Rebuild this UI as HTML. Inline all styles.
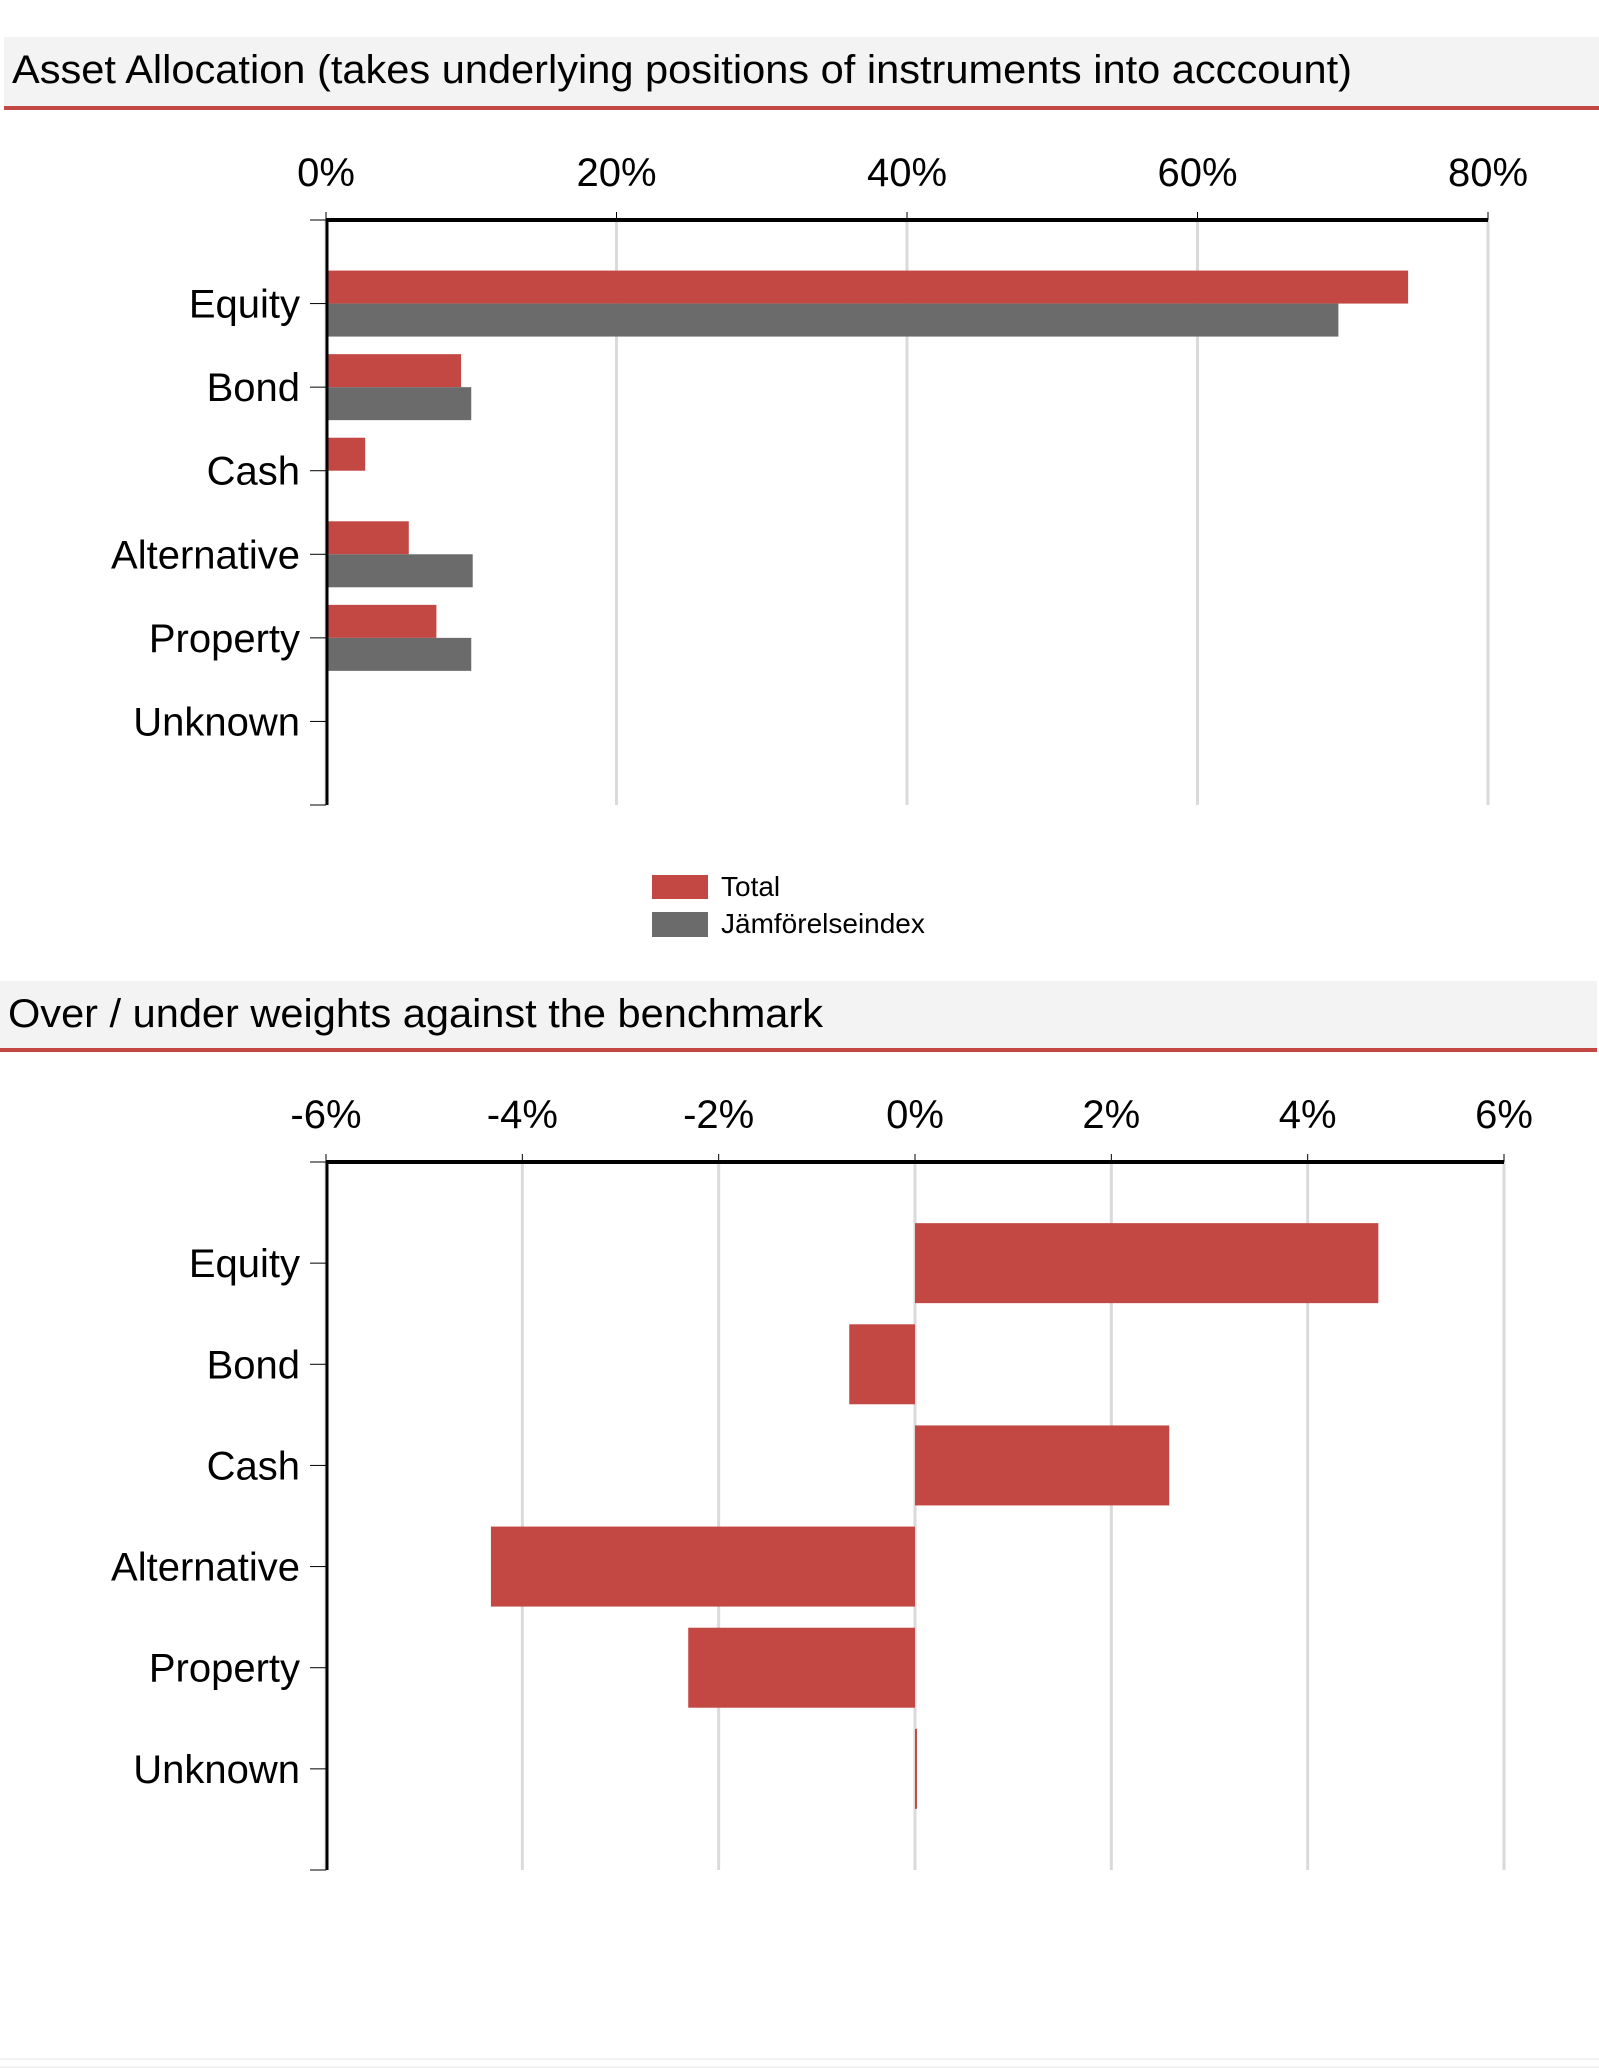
<!DOCTYPE html>
<html><head><meta charset="utf-8"><style>
html,body{margin:0;padding:0;background:#fff;}
svg{display:block;font-family:"Liberation Sans",Arial,sans-serif;}
</style></head><body>
<svg id="svg" width="1599" height="2068" viewBox="0 0 1599 2068" xmlns="http://www.w3.org/2000/svg">
<rect x="0" y="0" width="1599" height="2068" fill="#fff"/>
<g>
<rect x="4" y="37" width="1595" height="69" fill="#f3f3f3"/>
<rect x="4" y="106" width="1595" height="4" fill="#c34844"/>
<text x="12" y="83" font-size="40" fill="#000" textLength="1340" lengthAdjust="spacingAndGlyphs">Asset Allocation (takes underlying positions of instruments into acccount)</text>
</g>
<g id="chart1"></g>
<g>
<rect x="652" y="875" width="56" height="24" fill="#c34844"/>
<text x="721" y="896" font-size="28">Total</text>
<rect x="652" y="912" width="56" height="25" fill="#6b6b6b"/>
<text x="721" y="933" font-size="28">Jämförelseindex</text>
</g>
<g>
<rect x="0" y="981" width="1597" height="67" fill="#f3f3f3"/>
<rect x="0" y="1048" width="1597" height="4" fill="#c34844"/>
<text x="8" y="1027" font-size="40" fill="#000" textLength="815" lengthAdjust="spacingAndGlyphs">Over / under weights against the benchmark</text>
</g>
<g id="chart2"></g>
<rect x="0" y="2058" width="1599" height="2" fill="#f3f3f3"/>
<rect x="0" y="2066" width="1599" height="2" fill="#f3f3f3"/>
</svg>
<script>
const categories = ["Equity","Bond","Cash","Alternative","Property","Unknown"];
const totalValues = [74.5, 9.3, 2.7, 5.7, 7.6, 0];
const benchmarkValues = [69.7, 10.0, 0, 10.1, 10.0, 0];
const ticks1 = [0, 20, 40, 60, 80];
const tickLabels1 = ["0%","20%","40%","60%","80%"];
const diffValues = [4.72, -0.67, 2.59, -4.32, -2.31, 0.02];
const ticks2 = [-6, -4, -2, 0, 2, 4, 6];
const tickLabels2 = ["-6%","-4%","-2%","0%","2%","4%","6%"];

const NS = "http://www.w3.org/2000/svg";
function mk(parent, tag, attrs, text){
  const e = document.createElementNS(NS, tag);
  for (const k in attrs) e.setAttribute(k, attrs[k]);
  if (text !== undefined) e.textContent = text;
  parent.appendChild(e);
  return e;
}

function drawAxesFrame(g, xs, ticks, labels, top, bottom, left, right){
  ticks.forEach((t,i)=>{
    const x = xs(t);
    const gl = mk(g,"line",{x1:x,y1:top,x2:x,y2:bottom,stroke:"#dadada","stroke-width":3});
    
    
    mk(g,"line",{x1:x,y1:top-8,x2:x,y2:top,stroke:"#000","stroke-width":1});
    const tl = mk(g,"text",{x:x,y:top-34,"font-size":40,"text-anchor":"middle"}, labels[i]);
    
    
  });
}

function drawCatAxis(g, ys, top, bottom, left, right){
  const ax = mk(g,"line",{x1:left,y1:top,x2:right,y2:top,stroke:"#000","stroke-width":4});
  
  
  const ay = mk(g,"line",{x1:left+1,y1:top-2,x2:left+1,y2:bottom,stroke:"#000","stroke-width":3});
  
  
  mk(g,"line",{x1:left-16,y1:top,x2:left,y2:top,stroke:"#000","stroke-width":1});
  mk(g,"line",{x1:left-16,y1:bottom,x2:left,y2:bottom,stroke:"#000","stroke-width":1});
  categories.forEach((c,i)=>{
    const y = ys(i);
    mk(g,"line",{x1:left-16,y1:y,x2:left,y2:y,stroke:"#000","stroke-width":1});
    const t = mk(g,"text",{x:left-26,y:y+14,"font-size":40,"text-anchor":"end"}, c);
    
    
  });
}

// Chart 1
(function(){
  const g = document.getElementById("chart1");
  const left = 326, right = 1488, top = 220, bottom = 805;
  const xs = v => left + (v - 0) / 80 * (right - left);
  const step = (bottom - top) / 7;
  const ys = i => top + step * (i + 1);
  drawAxesFrame(g, xs, ticks1, tickLabels1, top, bottom, left, right);
  const bh = 33;
  categories.forEach((c,i)=>{
    const y = ys(i);
    if (totalValues[i] > 0){
      const r = mk(g,"rect",{x:xs(0),y:y-bh,width:xs(totalValues[i])-xs(0),height:bh,fill:"#c34844"});
      
      
    }
    if (benchmarkValues[i] > 0){
      const r2 = mk(g,"rect",{x:xs(0),y:y,width:xs(benchmarkValues[i])-xs(0),height:bh,fill:"#6b6b6b"});
      
      
    }
  });
  drawCatAxis(g, ys, top, bottom, left, right);
})();

// Chart 2
(function(){
  const g = document.getElementById("chart2");
  const left = 326, right = 1504, top = 1162, bottom = 1870;
  const xs = v => left + (v + 6) / 12 * (right - left);
  const step = (bottom - top) / 7;
  const ys = i => top + step * (i + 1);
  drawAxesFrame(g, xs, ticks2, tickLabels2, top, bottom, left, right);
  const bh = 80;
  categories.forEach((c,i)=>{
    const y = ys(i);
    const v = diffValues[i];
    const x0 = Math.min(xs(0), xs(v));
    const w = Math.max(1, Math.abs(xs(v) - xs(0)));
    const r = mk(g,"rect",{x:x0,y:y-bh/2,width:w,height:bh,fill:"#c34844"});
    
    
  });
  drawCatAxis(g, ys, top, bottom, left, right);
})();
</script>
</body></html>
